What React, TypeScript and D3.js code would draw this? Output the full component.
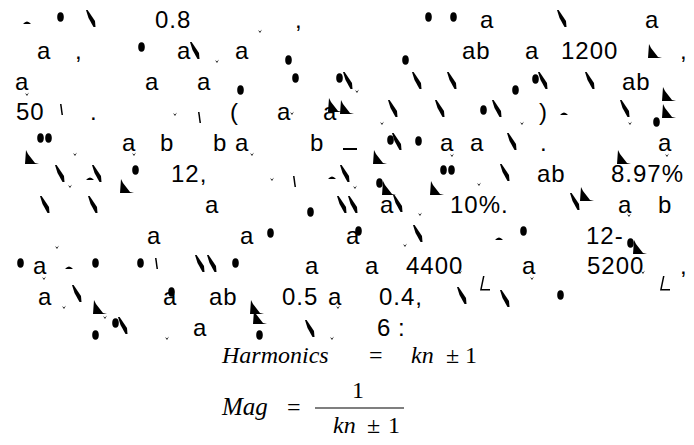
import React from "react";
import * as d3 from "d3";

// Readable text pieces per line: [text, left x]
const textLines: [string, number][][] = [
  [["0.8", 155], [",", 295], ["a", 480], ["a", 645]],
  [["a", 37], [",", 75], ["a", 177], ["a", 235], ["ab", 462], ["a", 525], ["1200", 561], [",", 680]],
  [["a", 15], ["a", 145], ["a", 197], ["ab", 622]],
  [["50", 16], [".", 90], ["(", 230], ["a", 277], ["a", 323], [")", 539]],
  [["a", 122], ["b", 160], ["b", 213], ["a", 235], ["b", 310], ["a", 440], ["a", 470], [".", 540], ["a", 658]],
  [["12,", 171], ["ab", 537], ["8.97%", 611]],
  [["a", 205], ["a", 380], ["10%.", 450], ["a", 618], ["b", 658]],
  [["a", 147], ["a", 240], ["a", 346], ["12-", 586]],
  [["a", 33], ["a", 305], ["a", 365], ["4400", 406], ["a", 522], ["5200", 587], [",", 680]],
  [["a", 38], ["a", 163], ["ab", 209], ["0.5", 282], ["a", 328], ["0.4,", 379]],
  [["a", 193], ["6", 377], [":", 398]],
];

// Broken glyph fragments: [kind, x, y]
const fragments: [string, number, number][] = [
  ["dash", 23, 20], ["dot", 57, 12], ["stroke", 86, 10], ["mark", 258, 30], ["dot", 425, 12], ["dot", 450, 12], ["stroke", 557, 10],
  ["dot", 138, 42], ["stroke", 190, 42], ["mark", 215, 60], ["dot", 285, 55], ["dot", 402, 55], ["wedge", 648, 44],
  ["mark", 25, 93], ["dot", 237, 85], ["dot", 292, 73], ["dot", 336, 73], ["stroke", 343, 72], ["mark", 355, 90],
  ["stroke", 412, 72], ["stroke", 447, 72], ["dot", 512, 85], ["dot", 532, 74], ["stroke", 538, 72], ["stroke", 585, 72], ["wedge", 662, 87],
  ["tick", 60, 104], ["mark", 173, 113], ["tick", 198, 112], ["mark", 290, 112], ["wedge", 328, 98],
  ["wedge", 340, 100], ["stroke", 388, 100], ["mark", 380, 122], ["stroke", 435, 100], ["dot", 480, 105], ["stroke", 492, 100],
  ["mark", 520, 122], ["dash", 560, 111], ["stroke", 620, 100], ["mark", 628, 122], ["dot", 653, 117], ["wedge", 662, 104],
  ["wedge", 25, 150], ["dot", 37, 133], ["dot", 45, 133], ["mark", 73, 153], ["mark", 132, 153], ["mark", 250, 153],
  ["rule", 343, 148], ["wedge", 373, 150], ["dot", 387, 135], ["stroke", 392, 133], ["dot", 415, 136], ["mark", 450, 154],
  ["stroke", 507, 133], ["wedge", 617, 150], ["mark", 665, 154],
  ["stroke", 55, 165], ["mark", 68, 185], ["dash", 86, 176], ["stroke", 92, 165], ["dot", 132, 165], ["wedge", 120, 179],
  ["mark", 270, 178], ["tick", 293, 176], ["dash", 328, 175], ["stroke", 340, 165], ["mark", 353, 186],
  ["dot", 376, 178], ["wedge", 382, 181], ["wedge", 430, 181], ["dot", 440, 165], ["dot", 448, 165], ["mark", 477, 183],
  ["stroke", 500, 164], ["wedge", 580, 187],
  ["stroke", 40, 196], ["stroke", 88, 196], ["dot", 307, 207], ["stroke", 337, 196], ["stroke", 348, 196],
  ["stroke", 393, 195], ["mark", 418, 213], ["stroke", 570, 193], ["mark", 627, 214],
  ["mark", 55, 246], ["dot", 267, 228], ["dot", 355, 226], ["mark", 403, 244], ["stroke", 413, 225], ["dash", 495, 236],
  ["dot", 520, 226], ["dot", 627, 238], ["wedge", 633, 240],
  ["dot", 17, 258], ["mark", 42, 277], ["dash", 65, 265], ["dot", 92, 258], ["dot", 137, 258], ["tick", 155, 258],
  ["stroke", 195, 255], ["stroke", 207, 255], ["dot", 232, 258], ["mark", 458, 271], ["ell", 480, 276],
  ["mark", 530, 277], ["mark", 641, 271], ["ell", 660, 276],
  ["mark", 62, 306], ["stroke", 72, 285], ["wedge", 93, 300], ["dot", 168, 287], ["wedge", 250, 300], ["mark", 336, 306],
  ["stroke", 457, 287], ["stroke", 500, 290], ["dot", 557, 290],
  ["mark", 103, 316], ["dot", 112, 318], ["stroke", 118, 317], ["dot", 92, 330], ["mark", 165, 337],
  ["wedge", 253, 310], ["dot", 256, 330], ["stroke", 305, 320], ["mark", 330, 337],
];

// Equations
const eq1Lhs = "Harmonics";
const eq1Rhs = ["kn", "±", "1"];
const eq2Lhs = "Mag";
const eq2Num = "1";
const eq2Den = ["kn", "±", "1"];

const lineY = d3.scaleLinear().domain([0, 10]).range([28, 336]);

function fragPath(kind: string, x: number, y: number): string {
  const p = d3.path();
  switch (kind) {
    case "stroke":
      p.moveTo(x, y); p.lineTo(x + 1.6, y); p.lineTo(x + 9, y + 11); p.lineTo(x + 9.5, y + 17);
      p.lineTo(x + 7.5, y + 17); p.lineTo(x + 2.5, y + 8); p.closePath();
      break;
    case "wedge":
      p.moveTo(x + 1, y); p.lineTo(x + 3, y + 4); p.lineTo(x + 10, y + 13); p.lineTo(x + 14, y + 14);
      p.lineTo(x, y + 14); p.closePath();
      break;
    case "mark":
      p.moveTo(x, y); p.lineTo(x + 2, y + 3); p.lineTo(x + 4, y - 0.5); p.lineTo(x + 2, y + 1.5); p.closePath();
      break;
    case "dash":
      p.moveTo(x, y + 4); p.quadraticCurveTo(x + 4, y - 1, x + 8, y + 4); p.closePath();
      break;
    case "tick":
      p.moveTo(x, y); p.lineTo(x + 1.5, y); p.lineTo(x + 3, y + 11); p.lineTo(x + 1.5, y + 11); p.closePath();
      break;
    case "ell":
      p.moveTo(x + 3, y); p.lineTo(x + 4.5, y); p.lineTo(x + 1.8, y + 13); p.lineTo(x + 10, y + 13);
      p.lineTo(x + 10, y + 14.5); p.lineTo(x, y + 14.5); p.closePath();
      break;
    case "rule":
      p.rect(x, y, 14, 2);
      break;
    default:
      break;
  }
  return p.toString();
}

export default function App() {
  const W = 694, H = 445;
  const sans = "'Liberation Sans', Arial, sans-serif";
  const serif = "'Liberation Serif', 'Times New Roman', serif";
  return (
    <svg width={W} height={H} style={{ position: "absolute", left: 0, top: 0, background: "#fff" }}>
      <rect width={W} height={H} fill="#fff" />
      <g fontFamily={sans} fontSize={24} fill="#000" letterSpacing={1}>
        {textLines.map((line, i) =>
          line.map(([t, x], j) => (
            <text key={`${i}-${j}`} x={x} y={lineY(i)}>{t}</text>
          ))
        )}
      </g>
      <g fill="#000">
        {fragments.map(([k, x, y], i) =>
          k === "dot" ? (
            <ellipse key={i} cx={x + 3.5} cy={y + 5} rx={3.3} ry={4.8} />
          ) : (
            <path key={i} d={fragPath(k, x, y)} />
          )
        )}
      </g>
      <g fontFamily={serif} fontSize={24} fill="#000">
        <text x={222} y={363} fontStyle="italic">{eq1Lhs}</text>
        <text x={369} y={363}>=</text>
        <text x={411} y={363} fontStyle="italic">{eq1Rhs[0]}</text>
        <text x={446} y={363}>{eq1Rhs[1]}</text>
        <text x={465} y={363}>{eq1Rhs[2]}</text>

        <text x={222} y={415} fontStyle="italic" fontSize={25}>{eq2Lhs}</text>
        <text x={287} y={415}>=</text>
        <text x={352} y={398}>{eq2Num}</text>
        <line x1={315} x2={404} y1={408} y2={408} stroke="#000" strokeWidth={1.1} />
        <text x={333} y={433} fontStyle="italic">{eq2Den[0]}</text>
        <text x={367} y={433}>{eq2Den[1]}</text>
        <text x={388} y={433}>{eq2Den[2]}</text>
      </g>
    </svg>
  );
}
